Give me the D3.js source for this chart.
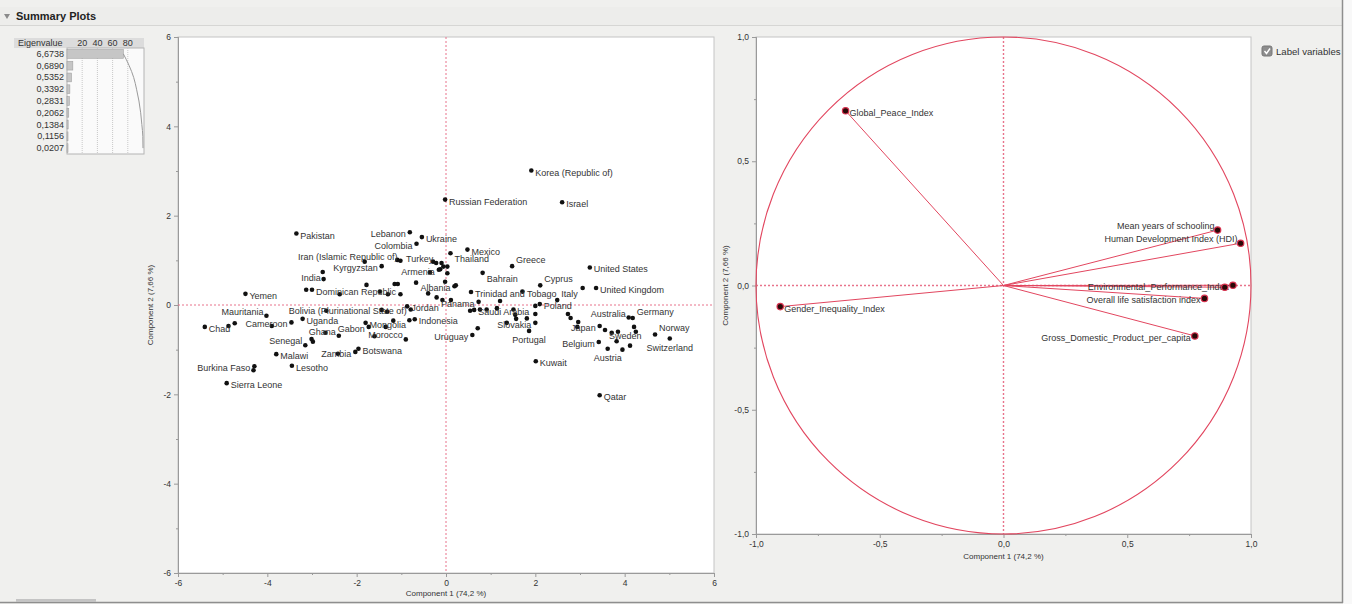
<!DOCTYPE html>
<html>
<head>
<meta charset="utf-8">
<script src="https://cdn.jsdelivr.net/npm/d3@7"></script>
<style>
  body { margin: 0; background: #f0f0ee; font-family: "Liberation Sans", Arial, sans-serif; }
  svg { display: block; }
</style>
</head>
<body>
<svg id="chart" width="1352" height="604"></svg>
<script>
// ---- Eigenvalues of the principal components ----
const eigenvalues = [6.6738, 0.6890, 0.5352, 0.3392, 0.2831, 0.2062, 0.1384, 0.1156, 0.0207];
const eigenTicks = [20, 40, 60, 80];

// ---- Country scores (labelled) ----
const countryNames = [
  "Korea (Republic of)", "Russian Federation", "Israel", "Pakistan", "Lebanon", "Ukraine",
  "Colombia", "Mexico", "Iran (Islamic Republic of)", "Turkey", "Thailand", "Kyrgyzstan",
  "Armenia", "India", "Greece", "United States", "Bahrain", "Cyprus", "United Kingdom",
  "Dominican Republic", "Albania", "Yemen", "Trinidad and Tobago", "Italy", "Poland",
  "Panama", "Saudi Arabia", "Bolivia (Plurinational State of)", "Jordan", "Mauritania",
  "Chad", "Cameroon", "Uganda", "Gabon", "Mongolia", "Indonesia", "Senegal", "Ghana",
  "Morocco", "Uruguay", "Slovakia", "Portugal", "Zambia", "Botswana", "Malawi", "Lesotho",
  "Burkina Faso", "Sierra Leone", "Kuwait", "Qatar", "Australia", "Germany", "Japan",
  "Sweden", "Belgium", "Austria", "Norway", "Switzerland"
];
const countryPC1 = [
  1.91, -0.02, 2.60, -3.35, -0.81, -0.54,
  -0.66, 0.48, -1.02, -0.22, 0.10, -1.44,
  -0.16, -2.76, 1.48, 3.22, 0.82, 2.11, 3.36,
  -3.00, 0.19, -4.49, 0.56, 2.49, 2.10,
  0.73, 0.63, -0.79, -0.87, -4.02,
  -5.40, -3.46, -3.21, -1.73, -1.80, -0.70, -3.15, -2.40,
  -0.90, 0.59, 2.00, 1.86, -2.03, -1.96, -3.80, -3.45,
  -4.29, -4.91, 2.01, 3.44, 4.09, 4.18, 3.44,
  3.56, 3.42, 3.62, 4.68, 5.01
];
const countryPC2 = [
  3.01, 2.36, 2.30, 1.60, 1.63, 1.52,
  1.37, 1.24, 0.99, 0.94, 1.16, 0.87,
  0.79, 0.74, 0.87, 0.84, 0.72, 0.44, 0.38,
  0.34, 0.42, 0.25, 0.29, 0.11, 0.02,
  0.07, -0.11, -0.10, -0.03, -0.24,
  -0.49, -0.39, -0.31, -0.49, -0.40, -0.32, -0.90, -0.69,
  -0.77, -0.67, -0.40, -0.58, -1.05, -0.98, -1.10, -1.36,
  -1.37, -1.75, -1.26, -2.02, -0.28, -0.29, -0.47,
  -0.56, -0.83, -0.98, -0.66, -0.75
];

// ---- Country scores whose labels are hidden ----
const otherPC1 = [
  -1.82, -1.09, -0.29, -0.10, -0.06, 0.03, -0.13, 0.03, -0.36, -0.02, -2.74, -0.67,
  -1.15, -1.08, -1.78, -3.13, -2.38, -1.30, -1.02, -1.48, -0.40, -0.21, -0.08, 0.11,
  0.22, 1.71, 3.06, 1.21, 0.76, 0.91, 1.14, 1.51, 2.00, 1.55, 1.57, 1.81, 1.36, 2.00,
  0.71, 0.54, -1.44, -2.68, -1.32, -1.18, -0.82, -1.35, -1.60, -4.87, -4.73, -3.90,
  -3.01, -2.98, -2.70, -2.42, -4.31, 2.73, 2.79, 2.96, 2.94, 3.71, 3.85, 3.82, 3.95,
  4.12, 4.21, 4.25
];
const otherPC2 = [
  0.97, 1.01, 0.97, 0.94, 0.86, 0.86, 0.80, 0.71, 0.73, 0.52, 0.58, 0.50,
  0.47, 0.47, 0.45, 0.34, 0.24, 0.24, 0.24, 0.30, 0.26, 0.17, 0.11, 0.11,
  0.44, 0.30, 0.38, 0.09, -0.10, -0.10, -0.07, -0.10, -0.02, -0.22, -0.31, -0.30, -0.40, -0.20,
  -0.52, -0.13, -0.11, -0.13, -0.15, -0.35, -0.34, -0.49, -0.70, -0.47, -0.41, -0.47,
  -0.76, -0.82, -0.62, -1.09, -1.46, -0.20, -0.29, -0.38, -0.49, -0.62, -0.60, -0.81, -1.00,
  -0.91, -0.49, -0.60
];

// ---- Variable loadings ----
const variableNames = [
  "Global_Peace_Index", "Gender_Inequality_Index", "Mean years of schooling",
  "Human Development Index (HDI)", "Environmental_Performance_Index", "",
  "Overall life satisfaction index", "Gross_Domestic_Product_per_capita"
];
const loading1 = [-0.638, -0.902, 0.865, 0.958, 0.927, 0.894, 0.812, 0.773];
const loading2 = [0.703, -0.085, 0.223, 0.170, 0.001, -0.007, -0.052, -0.203];

// ---- Label placement around points ----
const PLACE = {
  r:  { dx: 4,  dy: 5,  anchor: "start" },
  l:  { dx: -4, dy: 5,  anchor: "end" },
  ru: { dx: 4,  dy: -3, anchor: "start" },
  rd: { dx: 4,  dy: 9,  anchor: "start" },
  lu: { dx: -3, dy: -1, anchor: "end" },
  ld: { dx: -2, dy: 9,  anchor: "end" },
  b:  { dx: 0,  dy: 12, anchor: "middle" }
};
const countryLabelSide = {
  "Lebanon": "l", "Colombia": "l", "Iran (Islamic Republic of)": "lu", "Turkey": "lu",
  "Thailand": "rd", "Kyrgyzstan": "l", "Armenia": "l", "India": "ld", "Greece": "ru",
  "Bahrain": "rd", "Cyprus": "ru", "Albania": "l", "Italy": "ru", "Panama": "l",
  "Bolivia (Plurinational State of)": "l", "Mauritania": "lu", "Cameroon": "l",
  "Gabon": "l", "Senegal": "lu", "Ghana": "lu", "Morocco": "lu", "Uruguay": "l",
  "Slovakia": "l", "Portugal": "b", "Zambia": "l", "Burkina Faso": "l",
  "Australia": "lu", "Germany": "ru", "Japan": "l", "Sweden": "rd", "Belgium": "l",
  "Austria": "b", "Norway": "ru", "Switzerland": "b"
};
const variableLabelSide = {
  "Global_Peace_Index": "r", "Gender_Inequality_Index": "r",
  "Mean years of schooling": "lu", "Human Development Index (HDI)": "lu",
  "Environmental_Performance_Index": "l", "Overall life satisfaction index": "l",
  "Gross_Domestic_Product_per_capita": "l"
};

// ---- Shared styles ----
const loc = d3.formatLocale({ decimal: ",", thousands: ".", grouping: [3], currency: ["", ""], minus: "-" });
const TEXT = "#333";
const AXIS = "#9a9a9a";
const RED = "#e2465f";
const REF = "#e8738b";

const svg = d3.select("#chart");

// page background
svg.append("rect").attr("width", 1352).attr("height", 604).attr("fill", "#f0f0ee");
svg.append("rect").attr("x", 1343).attr("width", 9).attr("height", 604).attr("fill", "#f8f8f8");

// header bar
svg.append("rect").attr("x", 0).attr("y", 7).attr("width", 1342).attr("height", 18).attr("fill", "#ededeb");
svg.append("line").attr("x1", 0).attr("x2", 1342).attr("y1", 25.5).attr("y2", 25.5).attr("stroke", "#d6d6d4");
svg.append("path").attr("d", "M4,14 L10,14 L7,19 Z").attr("fill", "#8a8a8a");
svg.append("text").attr("x", 16).attr("y", 20).attr("font-size", 11).attr("font-weight", "bold")
  .attr("fill", "#222").text("Summary Plots");

// outer box edges
svg.append("line").attr("x1", 1342.5).attr("x2", 1342.5).attr("y1", 0).attr("y2", 603)
  .attr("stroke", "#8e8e8e").attr("stroke-width", 1.5);
svg.append("line").attr("x1", 0).attr("x2", 1343).attr("y1", 602.5).attr("y2", 602.5)
  .attr("stroke", "#8e8e8e").attr("stroke-width", 1.5);
svg.append("rect").attr("x", 16).attr("y", 599).attr("width", 80).attr("height", 3).attr("fill", "#c4c4c4");

// ================= Eigenvalue table =================
(function drawEigen() {
  const total = d3.sum(eigenvalues);
  const pct = eigenvalues.map(v => v / total * 100);
  const cum = d3.cumsum(pct);
  const ex = d3.scaleLinear([0, 100], [67, 143]);
  const row = d3.scaleBand().domain(d3.range(eigenvalues.length)).range([48, 154]);
  const g = svg.append("g").attr("font-size", 9).attr("fill", TEXT);

  g.append("rect").attr("x", 14).attr("y", 38).attr("width", 130).attr("height", 10).attr("fill", "#dcdcdc");
  g.append("text").attr("x", 18).attr("y", 46).text("Eigenvalue");
  g.selectAll("text.tk").data(eigenTicks).join("text").attr("class", "tk")
    .attr("x", d => ex(d)).attr("y", 46).attr("text-anchor", "middle").text(d => d);

  g.append("rect").attr("x", ex(0)).attr("y", 48).attr("width", ex(100) - ex(0) + 1).attr("height", 106)
    .attr("fill", "#fafafa").attr("stroke", "#b4b4b4");
  g.selectAll("line.gr").data(eigenTicks).join("line").attr("class", "gr")
    .attr("x1", d => ex(d)).attr("x2", d => ex(d)).attr("y1", 48).attr("y2", 154)
    .attr("stroke", "#c8c8c8").attr("stroke-dasharray", "1,1");

  g.selectAll("rect.bar").data(pct).join("rect").attr("class", "bar")
    .attr("x", ex(0)).attr("y", (d, i) => row(i) + 1.5)
    .attr("width", d => Math.max(1, ex(d) - ex(0))).attr("height", row.bandwidth() - 3)
    .attr("fill", "#c6c6c6").attr("stroke", "#a2a2a2").attr("stroke-width", 0.6);

  g.selectAll("text.ev").data(eigenvalues).join("text").attr("class", "ev")
    .attr("x", 64).attr("y", (d, i) => row(i) + row.bandwidth() / 2 + 3)
    .attr("text-anchor", "end").text(d => loc.format(".4f")(d));

  const line = d3.line().x(d => ex(d)).y((d, i) => row(i) + row.bandwidth() / 2).curve(d3.curveMonotoneY);
  g.append("path").attr("d", line(cum)).attr("fill", "none").attr("stroke", "#9a9a9a").attr("stroke-width", 1);
})();

// ================= Axis helper =================
function styleAxis(sel) {
  sel.attr("font-size", 8.5).attr("font-family", "Liberation Sans, Arial, sans-serif");
  sel.select(".domain").attr("stroke", AXIS);
  sel.selectAll(".tick line").attr("stroke", AXIS);
  sel.selectAll(".tick text").attr("fill", TEXT);
}

// ================= Score plot =================
(function drawScores() {
  const x = d3.scaleLinear([-6, 6], [178, 714]);
  const y = d3.scaleLinear([-6, 6], [573, 37]);
  const g = svg.append("g");

  g.append("rect").attr("x", x(-6)).attr("y", y(6)).attr("width", x(6) - x(-6)).attr("height", y(-6) - y(6))
    .attr("fill", "#fff").attr("stroke", "#c4c4c4");

  const major = [-6, -4, -2, 0, 2, 4, 6];
  const minor = [-5, -3, -1, 1, 3, 5];
  const fmt = loc.format("d");

  const ax = g.append("g").attr("transform", `translate(0,${y(-6)})`)
    .call(d3.axisBottom(x).tickValues(major).tickSize(4).tickPadding(3).tickFormat(fmt));
  styleAxis(ax);
  const axm = g.append("g").attr("transform", `translate(0,${y(-6)})`)
    .call(d3.axisBottom(x).tickValues(minor).tickSize(2).tickFormat(""));
  styleAxis(axm);
  const ay = g.append("g").attr("transform", `translate(${x(-6)},0)`)
    .call(d3.axisLeft(y).tickValues(major).tickSize(4).tickPadding(3).tickFormat(fmt));
  styleAxis(ay);
  const aym = g.append("g").attr("transform", `translate(${x(-6)},0)`)
    .call(d3.axisLeft(y).tickValues(minor).tickSize(2).tickFormat(""));
  styleAxis(aym);

  // reference lines through the origin
  g.append("line").attr("x1", x(0)).attr("x2", x(0)).attr("y1", y(6)).attr("y2", y(-6))
    .attr("stroke", REF).attr("stroke-dasharray", "2,2");
  g.append("line").attr("x1", x(-6)).attr("x2", x(6)).attr("y1", y(0)).attr("y2", y(0))
    .attr("stroke", REF).attr("stroke-dasharray", "2,2");

  // axis titles
  g.append("text").attr("x", x(0)).attr("y", 596).attr("text-anchor", "middle")
    .attr("font-size", 8).attr("fill", TEXT).text("Component 1  (74,2 %)");
  g.append("text").attr("transform", `translate(153,${y(0)}) rotate(-90)`).attr("text-anchor", "middle")
    .attr("font-size", 8).attr("fill", TEXT).text("Component 2  (7,66 %)");

  const others = otherPC1.map((v, i) => [v, otherPC2[i]]);
  g.selectAll("circle.o").data(others).join("circle").attr("class", "o")
    .attr("cx", d => x(d[0])).attr("cy", d => y(d[1])).attr("r", 2.3).attr("fill", "#111");

  const labelled = countryNames.map((n, i) => ({ name: n, a: countryPC1[i], b: countryPC2[i] }));
  g.selectAll("circle.c").data(labelled).join("circle").attr("class", "c")
    .attr("cx", d => x(d.a)).attr("cy", d => y(d.b)).attr("r", 2.3).attr("fill", "#111");

  g.selectAll("text.lab").data(labelled).join("text").attr("class", "lab")
    .each(function (d) {
      const p = PLACE[countryLabelSide[d.name] || "r"];
      d3.select(this).attr("x", x(d.a) + p.dx).attr("y", y(d.b) + p.dy).attr("text-anchor", p.anchor);
    })
    .attr("font-size", 9).attr("fill", TEXT).text(d => d.name);
})();

// ================= Loading plot =================
(function drawLoadings() {
  const x = d3.scaleLinear([-1, 1], [756, 1251]);
  const y = d3.scaleLinear([-1, 1], [534, 37]);
  const g = svg.append("g");

  g.append("rect").attr("x", x(-1)).attr("y", y(1)).attr("width", x(1) - x(-1)).attr("height", y(-1) - y(1))
    .attr("fill", "#fff").attr("stroke", "#c4c4c4");

  const major = [-1, -0.5, 0, 0.5, 1];
  const minor = [-0.75, -0.25, 0.25, 0.75];
  const fmt = loc.format(".1f");

  const ax = g.append("g").attr("transform", `translate(0,${y(-1)})`)
    .call(d3.axisBottom(x).tickValues(major).tickSize(4).tickPadding(3).tickFormat(fmt));
  styleAxis(ax);
  const axm = g.append("g").attr("transform", `translate(0,${y(-1)})`)
    .call(d3.axisBottom(x).tickValues(minor).tickSize(2).tickFormat(""));
  styleAxis(axm);
  const ay = g.append("g").attr("transform", `translate(${x(-1)},0)`)
    .call(d3.axisLeft(y).tickValues(major).tickSize(4).tickPadding(3).tickFormat(fmt));
  styleAxis(ay);
  const aym = g.append("g").attr("transform", `translate(${x(-1)},0)`)
    .call(d3.axisLeft(y).tickValues(minor).tickSize(2).tickFormat(""));
  styleAxis(aym);

  // reference lines through the origin (slightly wider so the pink stays visible)
  g.append("line").attr("x1", x(0)).attr("x2", x(0)).attr("y1", y(1)).attr("y2", y(-1))
    .attr("stroke", REF).attr("stroke-width", 1.4).attr("stroke-dasharray", "2,2");
  g.append("line").attr("x1", x(-1)).attr("x2", x(1)).attr("y1", y(0)).attr("y2", y(0))
    .attr("stroke", REF).attr("stroke-width", 1.4).attr("stroke-dasharray", "2,2");

  // unit circle
  g.append("ellipse").attr("cx", x(0)).attr("cy", y(0))
    .attr("rx", x(1) - x(0)).attr("ry", y(0) - y(1))
    .attr("fill", "none").attr("stroke", RED).attr("stroke-width", 1.1);

  g.append("text").attr("x", x(0)).attr("y", 559).attr("text-anchor", "middle")
    .attr("font-size", 8).attr("fill", TEXT).text("Component 1  (74,2 %)");
  g.append("text").attr("transform", `translate(728,${y(0)}) rotate(-90)`).attr("text-anchor", "middle")
    .attr("font-size", 8).attr("fill", TEXT).text("Component 2  (7,66 %)");

  const vars = variableNames.map((n, i) => ({ name: n, a: loading1[i], b: loading2[i] }));
  g.selectAll("line.ray").data(vars).join("line").attr("class", "ray")
    .attr("x1", x(0)).attr("y1", y(0)).attr("x2", d => x(d.a)).attr("y2", d => y(d.b))
    .attr("stroke", RED).attr("stroke-width", 1);

  g.selectAll("text.vl").data(vars.filter(d => d.name)).join("text").attr("class", "vl")
    .each(function (d) {
      const p = PLACE[variableLabelSide[d.name] || "r"];
      d3.select(this).attr("x", x(d.a) + p.dx).attr("y", y(d.b) + p.dy).attr("text-anchor", p.anchor);
    })
    .attr("font-size", 9).attr("fill", TEXT).text(d => d.name);

  g.selectAll("circle.v").data(vars).join("circle").attr("class", "v")
    .attr("cx", d => x(d.a)).attr("cy", d => y(d.b)).attr("r", 3.2)
    .attr("fill", "#2a0808").attr("stroke", "#d8324f").attr("stroke-width", 1.2);
})();

// ================= "Label variables" check box =================
(function drawCheckbox() {
  const clip = svg.append("clipPath").attr("id", "cbclip");
  clip.append("rect").attr("x", 1255).attr("y", 40).attr("width", 86).attr("height", 20);
  const g = svg.append("g").attr("clip-path", "url(#cbclip)");
  g.append("rect").attr("x", 1262).attr("y", 46).attr("width", 10).attr("height", 10).attr("rx", 2)
    .attr("fill", "#8d8d8d").attr("stroke", "#777");
  g.append("path").attr("d", "M1264.5,51 L1266.5,53.5 L1270,48.5").attr("fill", "none")
    .attr("stroke", "#fff").attr("stroke-width", 1.4);
  g.append("text").attr("x", 1276).attr("y", 54.5).attr("font-size", 9.6).attr("fill", TEXT).text("Label variables");
})();
</script>
</body>
</html>
